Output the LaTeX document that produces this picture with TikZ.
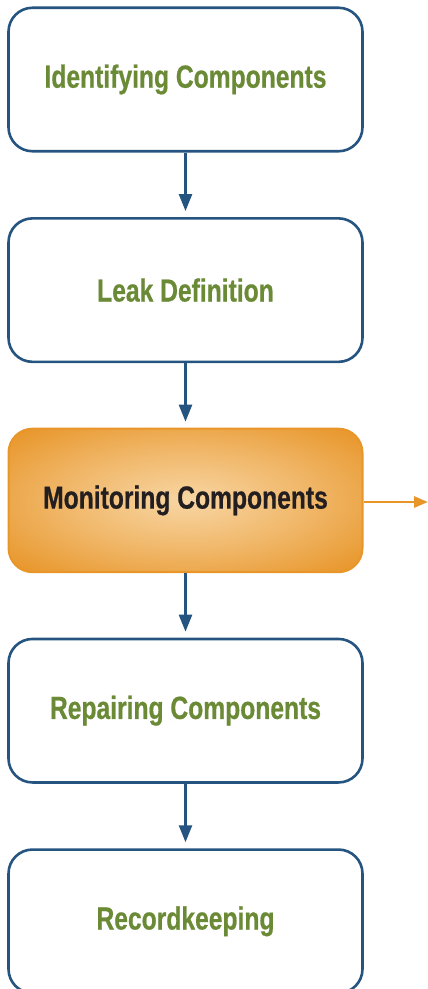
\documentclass[tikz,border=0pt]{standalone}
\usepackage{fontspec}
\usepackage{xcolor}
\newfontfamily\labelfont[FakeStretch=0.77,FakeBold=0.6]{Liberation Sans}
\usetikzlibrary{arrows.meta,positioning}
\definecolor{stepblue}{HTML}{24547F}
\definecolor{stepgreen}{HTML}{6A8A36}
\definecolor{monorange}{HTML}{E8962A}
\definecolor{monlight}{HTML}{F8D6A4}
\definecolor{textdark}{HTML}{231F20}
\pgfdeclareradialshading{monglow}{\pgfpoint{0bp}{0bp}}{color(0bp)=(monlight); color(18bp)=(monlight!50!monorange); color(34bp)=(monorange); color(50bp)=(monorange)}

\begin{document}
\begin{tikzpicture}[
    x=1pt, y=-1pt,
    node distance=64.5pt,
    stepbox/.style={rectangle, rounded corners=24pt, draw=stepblue, line width=2.6pt, fill=white, align=center, minimum width=354pt, minimum height=143.5pt, text=stepgreen, font=\labelfont\bfseries\fontsize{32}{38}\selectfont},
    hotbox/.style={stepbox, draw=monorange, line width=2pt, shading=monglow, text=textdark},
    arrow/.style={-{Triangle[length=17pt, width=13pt]}, line width=2.5pt, draw=stepblue, shorten >=6pt},
    outarrow/.style={-{Triangle[length=14pt, width=11pt]}, line width=2.8pt, draw=monorange}
  ]
    \useasboundingbox (0,0) rectangle (428,989);
    \clip (0,0) rectangle (428,989);
    \node[stepbox] (ident) at (185.5,79.5) {Identifying Components};
    \node[stepbox, below=of ident] (leak) {Leak Definition};
    \node[hotbox, below=of leak] (monitor) {Monitoring Components};
    \node[stepbox, below=of monitor] (repair) {Repairing Components};
    \node[stepbox, below=of repair] (records) {Recordkeeping};
    \coordinate (exit) at (428,502);
    \draw[arrow] (ident) -- (leak);
    \draw[arrow] (leak) -- (monitor);
    \draw[arrow] (monitor) -- (repair);
    \draw[arrow] (repair) -- (records);
    \draw[outarrow] (monitor.east |- exit) -- (exit);
  \end{tikzpicture}
\end{document}
